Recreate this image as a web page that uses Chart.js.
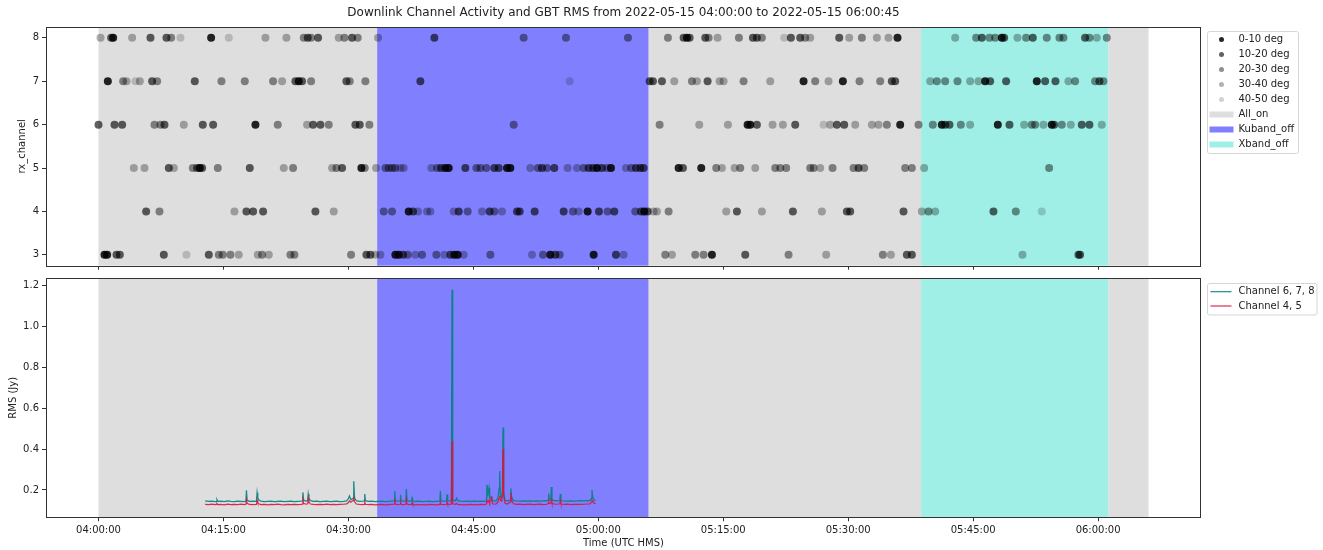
<!DOCTYPE html>
<html>
<head>
<meta charset="utf-8">
<script src="https://cdn.jsdelivr.net/npm/chart.js@4.4.1/dist/chart.umd.min.js"></script>
<style>
    html, body { margin: 0; padding: 0; background: #fff; }
    #wrap { position: relative; width: 1323px; height: 550px; }
    #topBox { position: absolute; left: 0; top: 0; width: 1323px; height: 272px; }
    #botBox { position: absolute; left: 0; top: 272px; width: 1323px; height: 278px; }
</style>
</head>
<body>
<div id="wrap">
    <div id="topBox"><canvas id="activityChart"></canvas></div>
    <div id="botBox"><canvas id="rmsChart"></canvas></div>
</div>
<script>
// ---- data (time = minutes after 04:00:00 UTC) ----
const chartTitle = 'Downlink Channel Activity and GBT RMS from 2022-05-15 04:00:00 to 2022-05-15 06:00:45';

const xTickLabels = ['04:00:00', '04:15:00', '04:30:00', '04:45:00', '05:00:00', '05:15:00', '05:30:00', '05:45:00', '06:00:00'];
const channelTicks = [3, 4, 5, 6, 7, 8];
const rmsTicks = [0.2, 0.4, 0.6, 0.8, 1.0, 1.2];

// [start, end, state]
const bandSegments = [
    ['04:00:00', '04:33:27', 'All_on'],
    ['04:33:27', '05:06:03', 'Kuband_off'],
    ['05:06:03', '05:38:45', 'All_on'],
    ['05:38:45', '06:01:15', 'Xband_off'],
    ['06:01:15', '06:06:03', 'All_on']
];
const bandNames = ['All_on', 'Kuband_off', 'Xband_off'];

const elevLabels = ['0-10 deg', '10-20 deg', '20-30 deg', '30-40 deg', '40-50 deg'];

// channel -> detection times
const elev0to10 = {
    8: [1.76, 13.52, 70.64, 95.92, 108.44],
    7: [1.12, 24.04, 84.64, 89.36, 106.44, 112.64],
    6: [18.84, 77.92, 78.24, 96.24, 101.24, 107.96, 114.44],
    5: [12.16, 31.56, 41.64, 42.04, 49.04, 49.44, 59.84, 61.52, 69.64, 72.36],
    4: [37.24, 58.72, 65.52],
    3: [0.72, 1.04, 35.64, 36.04, 42.72, 43.12, 54.24, 59.44, 73.64]
};
const elev10to20 = {
    8: [1.52, 6.24, 8.16, 25.12, 26.36, 30.44, 40.32, 70.24, 70.96, 72.84, 78.56, 79.04, 83.12, 84.24, 88.92, 106.04, 108.72, 112.16, 118.44],
    7: [6.44, 11.56, 23.64, 24.44, 29.76, 38.64, 66.16, 66.56, 67.64, 73.12, 95.24, 95.64, 107.04, 108.96, 113.64, 114.88, 120.16],
    6: [0, 1.92, 2.84, 7.92, 12.52, 13.76, 25.76, 26.64, 30.84, 31.36, 79.04, 83.64, 88.64, 89.52, 101.64, 102.16, 109.36, 114.72, 118.04, 118.96],
    5: [8.44, 11.84, 12.44, 18.16, 29.24, 41.12, 44.04, 47.52, 48.04, 53.24, 54.72, 58.84, 59.36, 60.44, 64.52, 65.04, 65.44, 70.16, 91.24],
    4: [5.72, 17.76, 18.56, 19.76, 26.04, 37.76, 43.24, 46.96, 50.24, 50.56, 52.36, 55.84, 60.08, 61.92, 65.12, 65.92, 76.64, 83.36, 89.84, 90.24, 96.64, 107.44],
    3: [2.16, 2.56, 7.84, 13.24, 32.16, 32.64, 36.56, 42.24, 54.84, 62.12, 77.64, 97.04, 97.64, 117.64, 117.84]
};
const elev20to30 = {
    8: [8.72, 24.64, 25.52, 29.52, 31.12, 51.04, 56.12, 63.56, 68.36, 73.24, 76.88, 79.64, 84.84, 91.64, 105.36, 106.96, 107.64, 111.36, 113.84, 115.36, 115.84, 118.96, 121.04],
    7: [2.96, 7.04, 14.76, 17.56, 20.96, 25.52, 30.16, 32.04, 71.24, 77.44, 86.04, 91.36, 93.84, 100.64, 101.64, 103.12, 117.24, 119.64, 120.64],
    6: [6.72, 7.44, 21.52, 27.64, 32.52, 49.84, 67.36, 94.64, 98.44, 100.16, 103.52, 112.04, 112.44, 115.64],
    5: [11.32, 14.32, 23.36, 28.56, 31.96, 34.44, 34.84, 35.24, 35.64, 40.64, 45.36, 45.84, 46.56, 52.76, 53.84, 58.24, 61.04, 63.96, 74.16, 77.04, 81.24, 81.84, 82.56, 85.44, 85.84, 88.12, 90.64, 91.92, 96.84, 97.64, 114.12],
    4: [7.32, 34.24, 35.24, 44.32, 47.52, 56.96, 61.12, 64.44, 68.44, 99.64, 110.12],
    3: [14.44, 14.92, 15.84, 19.64, 23.04, 23.52, 30.32, 37.12, 38.84, 40.56, 47.04, 53.36, 55.36, 68.04, 71.64, 72.64, 82.84, 94.16]
};
const elev30to40 = {
    8: [0.24, 4.04, 20.04, 22.56, 28.84, 33.56, 74.32, 85.44, 90.12, 93.44, 94.84, 102.84, 110.32, 119.84],
    7: [3.36, 4.96, 22.04, 69.12, 71.84, 74.56, 75.04, 80.64, 87.64, 99.84, 104.64, 105.64, 116.44],
    6: [10.24, 25.04, 72.12, 75.56, 80.92, 82.16, 87.84, 90.84, 92.84, 93.64, 104.64, 111.12, 113.44, 116.72, 120.44],
    5: [4.24, 5.52, 9.04, 22.24, 28.04, 33.32, 36.24, 36.64, 39.96, 51.84, 56.32, 57.44, 63.32, 74.84, 76.36, 78.84, 86.64, 99.12],
    4: [16.32, 28.24, 38.36, 39.44, 39.84, 42.64, 46.04, 48.44, 57.64, 66.64, 67.04, 75.36, 79.64, 86.84, 98.84, 100.44],
    3: [16.84, 19.12, 20.44, 33.24, 33.84, 38.04, 41.52, 43.84, 52.04, 63.04, 68.84, 87.36, 95.12, 110.92]
};
const elev40to50 = {
    8: [9.84, 15.64, 82.32],
    7: [4.44, 56.56],
    6: [87.04],
    4: [113.24],
    3: [10.56]
};

// RMS series (Jy)
const rmsTime = [
    12.80, 13.20, 13.60, 14.00, 14.15, 14.22, 14.30, 14.70, 15.10, 15.50, 15.90, 16.30, 16.70, 17.10, 17.50, 17.70, 17.76, 17.84,
    18.10, 18.50, 18.96, 19.04, 19.12, 19.25, 19.50, 19.90, 20.30, 20.70, 21.10, 21.50, 21.90, 22.30, 22.70, 23.10, 23.50, 23.90,
    24.30, 24.48, 24.54, 24.62, 24.90, 25.12, 25.18, 25.26, 25.45, 25.80, 26.20, 26.60, 27.00, 27.40, 27.80, 28.20, 28.60, 29.00,
    29.40, 29.80, 30.00, 30.12, 30.30, 30.56, 30.64, 30.74, 30.95, 31.30, 31.70, 31.90, 31.96, 32.04, 32.40, 32.80, 33.20, 33.60,
    34.00, 34.40, 34.80, 35.20, 35.50, 35.56, 35.64, 35.90, 36.20, 36.26, 36.34, 36.60, 36.90, 36.96, 37.04, 37.30, 37.58, 37.64,
    37.72, 38.10, 38.50, 38.90, 39.30, 39.70, 40.10, 40.50, 40.98, 41.04, 41.12, 41.50, 41.78, 41.84, 41.92, 42.36, 42.44, 42.52,
    42.80, 43.00, 43.10, 43.50, 43.90, 44.30, 44.70, 45.10, 45.50, 45.90, 46.30, 46.58, 46.64, 46.76, 46.88, 46.96, 47.20, 47.30,
    47.70, 47.95, 48.10, 48.16, 48.24, 48.40, 48.50, 48.56, 48.64, 48.80, 49.10, 49.40, 49.50, 49.60, 49.80, 50.20, 50.60, 51.00,
    51.40, 51.80, 52.20, 52.60, 53.00, 53.40, 53.80, 53.98, 54.04, 54.12, 54.30, 54.36, 54.44, 54.80, 55.20, 55.38, 55.44, 55.52,
    55.90, 56.30, 56.70, 57.10, 57.50, 57.90, 58.30, 58.70, 59.00, 59.18, 59.24, 59.32, 59.50, 59.68
];
const rmsHigh = [
    0.146, 0.144, 0.145, 0.143, 0.144, 0.152, 0.144, 0.145, 0.143, 0.146, 0.144, 0.143, 0.145, 0.144, 0.143, 0.145, 0.198, 0.150,
    0.144, 0.145, 0.144, 0.186, 0.162, 0.150, 0.145, 0.143, 0.144, 0.145, 0.143, 0.144, 0.145, 0.143, 0.144, 0.145, 0.143, 0.144,
    0.145, 0.146, 0.188, 0.150, 0.145, 0.147, 0.180, 0.160, 0.147, 0.144, 0.145, 0.143, 0.144, 0.145, 0.143, 0.144, 0.145, 0.143,
    0.144, 0.146, 0.158, 0.170, 0.152, 0.158, 0.242, 0.160, 0.147, 0.144, 0.145, 0.146, 0.180, 0.147, 0.144, 0.145, 0.143, 0.144,
    0.145, 0.143, 0.144, 0.145, 0.146, 0.195, 0.148, 0.145, 0.146, 0.176, 0.146, 0.145, 0.146, 0.205, 0.148, 0.145, 0.146, 0.160,
    0.145, 0.144, 0.145, 0.143, 0.144, 0.145, 0.143, 0.144, 0.145, 0.196, 0.146, 0.145, 0.146, 0.178, 0.146, 0.146, 1.180, 0.150,
    0.146, 0.160, 0.147, 0.145, 0.144, 0.145, 0.144, 0.145, 0.144, 0.145, 0.144, 0.147, 0.225, 0.180, 0.210, 0.160, 0.165, 0.148,
    0.146, 0.160, 0.210, 0.292, 0.170, 0.160, 0.200, 0.505, 0.190, 0.150, 0.146, 0.150, 0.208, 0.165, 0.148, 0.146, 0.145, 0.146,
    0.145, 0.146, 0.145, 0.146, 0.145, 0.146, 0.147, 0.150, 0.182, 0.150, 0.152, 0.214, 0.152, 0.147, 0.146, 0.148, 0.180, 0.148,
    0.146, 0.145, 0.146, 0.145, 0.146, 0.147, 0.146, 0.147, 0.148, 0.160, 0.200, 0.165, 0.150, 0.148
];
const rmsLow = [
    0.129, 0.128, 0.130, 0.128, 0.129, 0.133, 0.128, 0.129, 0.127, 0.130, 0.128, 0.129, 0.128, 0.130, 0.128, 0.130, 0.152, 0.134,
    0.129, 0.128, 0.129, 0.150, 0.138, 0.132, 0.128, 0.129, 0.127, 0.129, 0.128, 0.130, 0.128, 0.127, 0.129, 0.128, 0.129, 0.128,
    0.129, 0.130, 0.150, 0.134, 0.130, 0.132, 0.158, 0.140, 0.131, 0.129, 0.128, 0.129, 0.128, 0.130, 0.128, 0.129, 0.128, 0.129,
    0.130, 0.132, 0.138, 0.146, 0.140, 0.148, 0.166, 0.142, 0.131, 0.129, 0.128, 0.129, 0.140, 0.130, 0.128, 0.129, 0.127, 0.128,
    0.129, 0.127, 0.128, 0.129, 0.130, 0.156, 0.131, 0.128, 0.130, 0.140, 0.129, 0.128, 0.130, 0.152, 0.131, 0.128, 0.129, 0.136,
    0.128, 0.127, 0.128, 0.128, 0.127, 0.129, 0.128, 0.127, 0.129, 0.140, 0.129, 0.128, 0.130, 0.140, 0.129, 0.130, 0.438, 0.132,
    0.129, 0.134, 0.129, 0.128, 0.127, 0.128, 0.129, 0.127, 0.128, 0.129, 0.128, 0.131, 0.148, 0.140, 0.150, 0.137, 0.162, 0.132,
    0.130, 0.140, 0.160, 0.170, 0.150, 0.145, 0.180, 0.400, 0.170, 0.135, 0.131, 0.140, 0.185, 0.150, 0.132, 0.129, 0.130, 0.128,
    0.129, 0.130, 0.128, 0.129, 0.130, 0.128, 0.130, 0.133, 0.142, 0.134, 0.135, 0.150, 0.134, 0.130, 0.131, 0.132, 0.146, 0.131,
    0.129, 0.130, 0.128, 0.129, 0.130, 0.129, 0.130, 0.131, 0.132, 0.140, 0.150, 0.145, 0.135, 0.132
];

// ---- styles ----
const fontFamily = "'DejaVu Sans', 'Liberation Sans', sans-serif";
const textColor = '#222';
const elevAlpha = [0.85, 0.62, 0.44, 0.3, 0.18];
const bandColors = { All_on: '#dedede', Kuband_off: '#8080ff', Xband_off: '#a0efe7' };
const highColor = 'rgba(0, 128, 128, 0.9)';
const lowColor = 'rgba(220, 20, 60, 0.9)';

Chart.defaults.font.family = fontFamily;
Chart.defaults.font.size = 10;
Chart.defaults.color = textColor;

function toMinutes(hms) {
    const [h, m, s] = hms.split(':').map(Number);
    return (h - 4) * 60 + m + s / 60;
}

function fmtTime(min) {
    const total = Math.round((min + 240) * 60);
    const h = Math.floor(total / 3600);
    const m = Math.floor((total % 3600) / 60);
    const s = total % 60;
    return [h, m, s].map(v => String(v).padStart(2, '0')).join(':');
}

const bandStart = Math.min(...bandSegments.map(b => toMinutes(b[0])));
const bandEnd = Math.max(...bandSegments.map(b => toMinutes(b[1])));
const xMargin = (bandEnd - bandStart) * 0.05;
const xMin = bandStart - xMargin;
const xMax = bandEnd + xMargin;

function toPoints(byChannel) {
    const pts = [];
    Object.keys(byChannel).forEach(ch => {
        byChannel[ch].forEach(t => pts.push({ x: t, y: Number(ch) }));
    });
    return pts;
}

// keep the plot box where we put it: no extra room for edge labels
function noEdgePadding(s) {
    s.paddingTop = 0;
    s.paddingBottom = 0;
    s.paddingLeft = 0;
    s.paddingRight = 0;
}

const bandPlugin = {
    id: 'bands',
    beforeDatasetsDraw(chart) {
        const { ctx, chartArea: a, scales: { x } } = chart;
        ctx.save();
        bandSegments.forEach(([start, end, name]) => {
            const x1 = x.getPixelForValue(toMinutes(start));
            const x2 = x.getPixelForValue(toMinutes(end));
            ctx.fillStyle = bandColors[name];
            ctx.fillRect(x1, a.top, x2 - x1, a.bottom - a.top);
        });
        ctx.restore();
    }
};

const framePlugin = {
    id: 'frame',
    afterDatasetsDraw(chart) {
        const { ctx, chartArea: a } = chart;
        ctx.save();
        ctx.strokeStyle = '#333';
        ctx.lineWidth = 1;
        ctx.strokeRect(Math.round(a.left) + 0.5, Math.round(a.top) + 0.5,
            Math.round(a.right) - Math.round(a.left) - 1, Math.round(a.bottom) - Math.round(a.top));
        ctx.restore();
    }
};

function boxLegend(box, items) {
    return {
        id: 'boxLegend',
        afterDraw(chart) {
            const ctx = chart.ctx;
            ctx.save();
            ctx.fillStyle = 'rgba(255,255,255,0.8)';
            ctx.strokeStyle = '#d6d6d6';
            ctx.lineWidth = 1;
            ctx.beginPath();
            ctx.roundRect(box.left, box.top, box.width, box.height, 2);
            ctx.fill();
            ctx.stroke();
            items.forEach((it, i) => {
                const y = box.firstY + i * box.rowGap;
                if (it.kind === 'marker') {
                    ctx.fillStyle = it.color;
                    ctx.beginPath();
                    ctx.arc(box.left + 14, y, 2.5, 0, Math.PI * 2);
                    ctx.fill();
                } else if (it.kind === 'patch') {
                    ctx.fillStyle = it.color;
                    ctx.fillRect(box.left + 2, y - 3, 24, 6);
                } else {
                    ctx.strokeStyle = it.color;
                    ctx.lineWidth = 1.2;
                    ctx.beginPath();
                    ctx.moveTo(box.left + 3, y);
                    ctx.lineTo(box.left + 24, y);
                    ctx.stroke();
                }
                ctx.fillStyle = textColor;
                ctx.font = '10px ' + fontFamily;
                ctx.textBaseline = 'middle';
                ctx.textAlign = 'left';
                ctx.fillText(it.label, box.left + 31, y);
            });
            ctx.restore();
        }
    };
}

function xScale(showLabels, height) {
    return {
        type: 'linear',
        min: xMin,
        max: xMax,
        afterBuildTicks: s => { s.ticks = xTickLabels.map(l => ({ value: toMinutes(l) })); },
        afterFit: s => { s.height = height; noEdgePadding(s); },
        ticks: { display: showLabels, padding: 3.5, callback: v => fmtTime(v), maxRotation: 0, autoSkip: false },
        grid: { drawOnChartArea: false, drawTicks: true, tickLength: 4, color: '#333' },
        border: { display: false },
        title: { display: showLabels, text: 'Time (UTC HMS)', padding: { top: 0, bottom: 1 } }
    };
}

function yScale(min, max, ticks, title, titlePad, fmt) {
    return {
        min: min,
        max: max,
        afterBuildTicks: s => { s.ticks = ticks.map(v => ({ value: v })); },
        afterFit: s => { s.width = 46; noEdgePadding(s); },
        ticks: { padding: 3, callback: fmt },
        grid: { drawOnChartArea: false, drawTicks: true, tickLength: 4, color: '#333' },
        border: { display: false },
        title: { display: true, text: title, padding: { top: titlePad, bottom: 0 } }
    };
}

// ---- top: channel activity ----
const elevSets = [elev0to10, elev10to20, elev20to30, elev30to40, elev40to50];

const activityChart = new Chart(document.getElementById('activityChart'), {
    type: 'scatter',
    data: {
        datasets: elevSets.map((set, i) => ({
            label: elevLabels[i],
            data: toPoints(set),
            backgroundColor: 'rgba(0,0,0,' + elevAlpha[i] + ')',
            borderWidth: 0,
            pointRadius: 4,
            pointHoverRadius: 4
        }))
    },
    options: {
        responsive: true,
        maintainAspectRatio: false,
        animation: false,
        devicePixelRatio: 1,
        layout: { padding: { left: 0, right: 122, top: 0, bottom: 0 } },
        plugins: {
            legend: { display: false },
            tooltip: { enabled: false },
            title: {
                display: true,
                text: chartTitle,
                fullSize: false,
                font: { size: 12, weight: 'normal' },
                color: textColor,
                padding: { top: 6, bottom: 6.6 }
            }
        },
        scales: {
            x: xScale(false, 6.3),
            y: yScale(2.75, 8.25, channelTicks, 'rx_channel', 16, v => String(v))
        }
    },
    plugins: [bandPlugin, framePlugin, boxLegend(
        { left: 1207.5, top: 31.5, width: 91, height: 122, firstY: 39.5, rowGap: 15 },
        elevLabels.map((l, i) => ({ kind: 'marker', label: l, color: 'rgba(0,0,0,' + elevAlpha[i] + ')' }))
            .concat(bandNames.map(n => ({ kind: 'patch', label: n, color: bandColors[n] })))
    )]
});

// ---- bottom: RMS ----
const rmsChart = new Chart(document.getElementById('rmsChart'), {
    type: 'line',
    data: {
        datasets: [
            {
                label: 'Channel 4, 5',
                data: rmsTime.map((t, i) => ({ x: t, y: rmsLow[i] })),
                borderColor: lowColor,
                borderWidth: 1.2,
                pointRadius: 0,
                tension: 0,
                order: 0
            },
            {
                label: 'Channel 6, 7, 8',
                data: rmsTime.map((t, i) => ({ x: t, y: rmsHigh[i] })),
                borderColor: highColor,
                borderWidth: 1.3,
                pointRadius: 0,
                tension: 0,
                order: 1
            }
        ]
    },
    options: {
        responsive: true,
        maintainAspectRatio: false,
        animation: false,
        devicePixelRatio: 1,
        layout: { padding: { left: 0, right: 122, top: 6.3, bottom: 0 } },
        plugins: { legend: { display: false }, tooltip: { enabled: false } },
        scales: {
            x: xScale(true, 32.7),
            y: yScale(0.066, 1.236, rmsTicks, 'RMS (Jy)', 7, v => v.toFixed(1))
        }
    },
    plugins: [bandPlugin, framePlugin, boxLegend(
        { left: 1207.5, top: 11.5, width: 109.5, height: 31.5, firstY: 19.7, rowGap: 14.3 },
        [
            { kind: 'line', label: 'Channel 6, 7, 8', color: highColor },
            { kind: 'line', label: 'Channel 4, 5', color: lowColor }
        ]
    )]
});
</script>
</body>
</html>
